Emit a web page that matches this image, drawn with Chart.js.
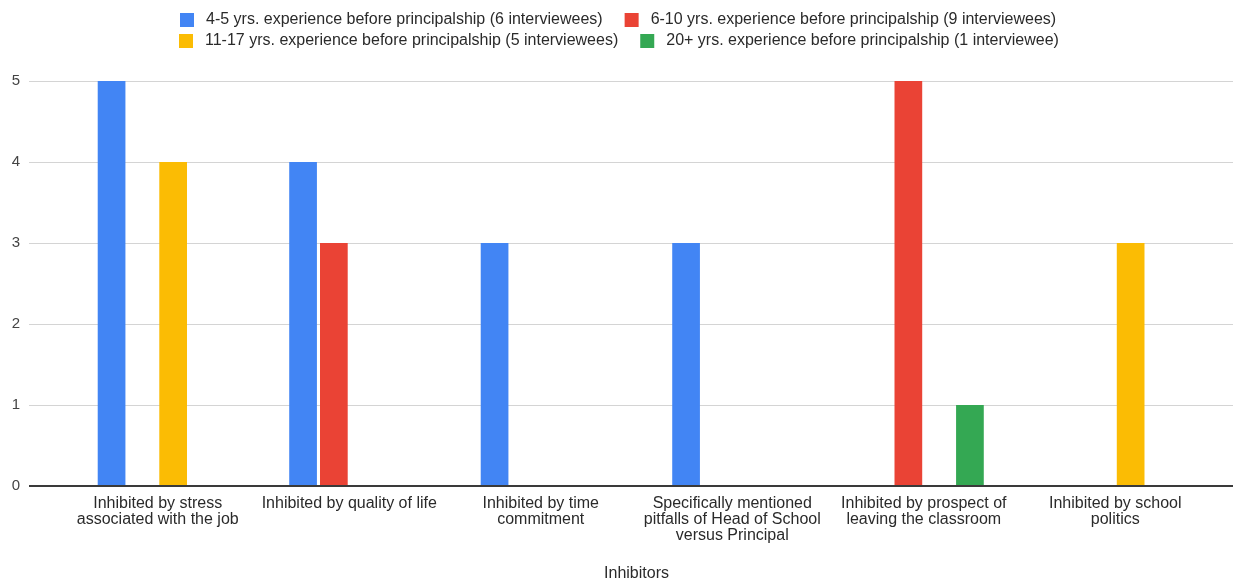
<!DOCTYPE html>
<html>
<head>
<meta charset="utf-8">
<title>Inhibitors</title>
<script src="https://cdn.jsdelivr.net/npm/chart.js@4/dist/chart.umd.min.js"></script>
<style>
  html, body { margin: 0; padding: 0; background: #ffffff; }
  #wrap { width: 1233px; height: 579px; }
</style>
</head>
<body>
<div id="wrap"><canvas id="chart" width="1233" height="579"></canvas></div>
<script>
// Category labels (split into lines the way they wrap under the axis)
const categories = [
  ["Inhibited by stress", "associated with the job"],
  ["Inhibited by quality of life"],
  ["Inhibited by time", "commitment"],
  ["Specifically mentioned", "pitfalls of Head of School", "versus Principal"],
  ["Inhibited by prospect of", "leaving the classroom"],
  ["Inhibited by school", "politics"]
];

// Series names and colours
const seriesNames = [
  "4-5 yrs. experience before principalship (6 interviewees)",
  "6-10 yrs. experience before principalship (9 interviewees)",
  "11-17 yrs. experience before principalship (5 interviewees)",
  "20+ yrs. experience before principalship (1 interviewee)"
];
const seriesColors = ["#4285F4", "#EA4335", "#FBBC04", "#34A853"];

// Number of interviewees naming each inhibitor
const exp4to5   = [5, 4, 3, 3, 0, 0];
const exp6to10  = [0, 3, 0, 0, 5, 0];
const exp11to17 = [4, 0, 0, 0, 0, 3];
const exp20plus = [0, 0, 0, 0, 1, 0];

// Value axis
const yTicks = [0, 1, 2, 3, 4, 5];
const axisTitle = "Inhibitors";

const FONT = "'Liberation Sans', Arial, sans-serif";

// Horizontal gridlines run wider than the category band, with a dark baseline at zero
const gridPlugin = {
  id: 'wideGrid',
  beforeDatasetsDraw(chart) {
    const { ctx } = chart;
    const y = chart.scales.y;
    ctx.save();
    ctx.lineWidth = 1;
    ctx.strokeStyle = '#d4d4d4';
    yTicks.forEach(v => {
      if (v === 0) return;
      const py = Math.round(y.getPixelForValue(v)) + 0.5;
      ctx.beginPath();
      ctx.moveTo(29, py);
      ctx.lineTo(chart.width, py);
      ctx.stroke();
    });
    ctx.restore();
  },
  afterDatasetsDraw(chart) {
    const { ctx } = chart;
    const py = Math.round(chart.scales.y.getPixelForValue(0));
    ctx.save();
    ctx.fillStyle = '#3a3a3a';
    ctx.fillRect(29, py - 1, chart.width - 29, 2);
    ctx.restore();
  }
};

// Two-row legend above the plot
const legendPlugin = {
  id: 'twoRowLegend',
  afterDraw(chart) {
    const { ctx } = chart;
    const box = 14, textGap = 12, itemGap = 22;
    const rows = [[0, 1], [2, 3]];
    const rowY = [20, 41];
    const centerX = chart.width / 2 + 2;
    ctx.save();
    ctx.font = "16px " + FONT;
    ctx.textBaseline = 'middle';
    ctx.textAlign = 'left';
    rows.forEach((row, r) => {
      const widths = row.map(i => ctx.measureText(chart.data.datasets[i].label).width);
      let total = 0;
      widths.forEach((w, k) => { total += box + textGap + w + (k < row.length - 1 ? itemGap : 0); });
      let x = Math.round(centerX - total / 2);
      row.forEach((i, k) => {
        const ds = chart.data.datasets[i];
        ctx.fillStyle = ds.backgroundColor;
        ctx.fillRect(x, rowY[r] - box / 2, box, box);
        ctx.fillStyle = '#2a2a2a';
        ctx.fillText(ds.label, x + box + textGap, rowY[r]);
        x += box + textGap + widths[k] + itemGap;
      });
    });
    ctx.restore();
  }
};

const seriesValues = [exp4to5, exp6to10, exp11to17, exp20plus];

new Chart(document.getElementById('chart'), {
  type: 'bar',
  data: {
    labels: categories,
    datasets: seriesValues.map((vals, i) => ({
      label: seriesNames[i],
      data: vals,
      backgroundColor: seriesColors[i],
      borderWidth: 0,
      categoryPercentage: 0.643,
      barPercentage: 0.9
    }))
  },
  options: {
    responsive: false,
    animation: false,
    layout: { padding: { top: 81, right: 22, bottom: 0, left: 0 } },
    plugins: {
      legend: { display: false },
      tooltip: { enabled: false }
    },
    scales: {
      x: {
        grid: { display: false, drawTicks: false },
        border: { display: false },
        ticks: {
          color: '#2a2a2a',
          font: { family: FONT, size: 16, lineHeight: '16px' },
          padding: 10,
          maxRotation: 0,
          autoSkip: false
        },
        title: {
          display: true,
          text: axisTitle,
          color: '#2a2a2a',
          font: { family: FONT, size: 16, lineHeight: '10px' },
          padding: 0
        },
        afterFit(scale) { scale.height = 93; }
      },
      y: {
        min: 0,
        max: 5,
        grid: { display: false, drawTicks: false },
        border: { display: false },
        afterBuildTicks(scale) { scale.ticks = yTicks.map(v => ({ value: v })); },
        ticks: {
          color: '#444444',
          font: { family: FONT, size: 15 },
          padding: 42
        },
        afterFit(scale) { scale.width = 62; }
      }
    }
  },
  plugins: [gridPlugin, legendPlugin]
});
</script>
</body>
</html>
